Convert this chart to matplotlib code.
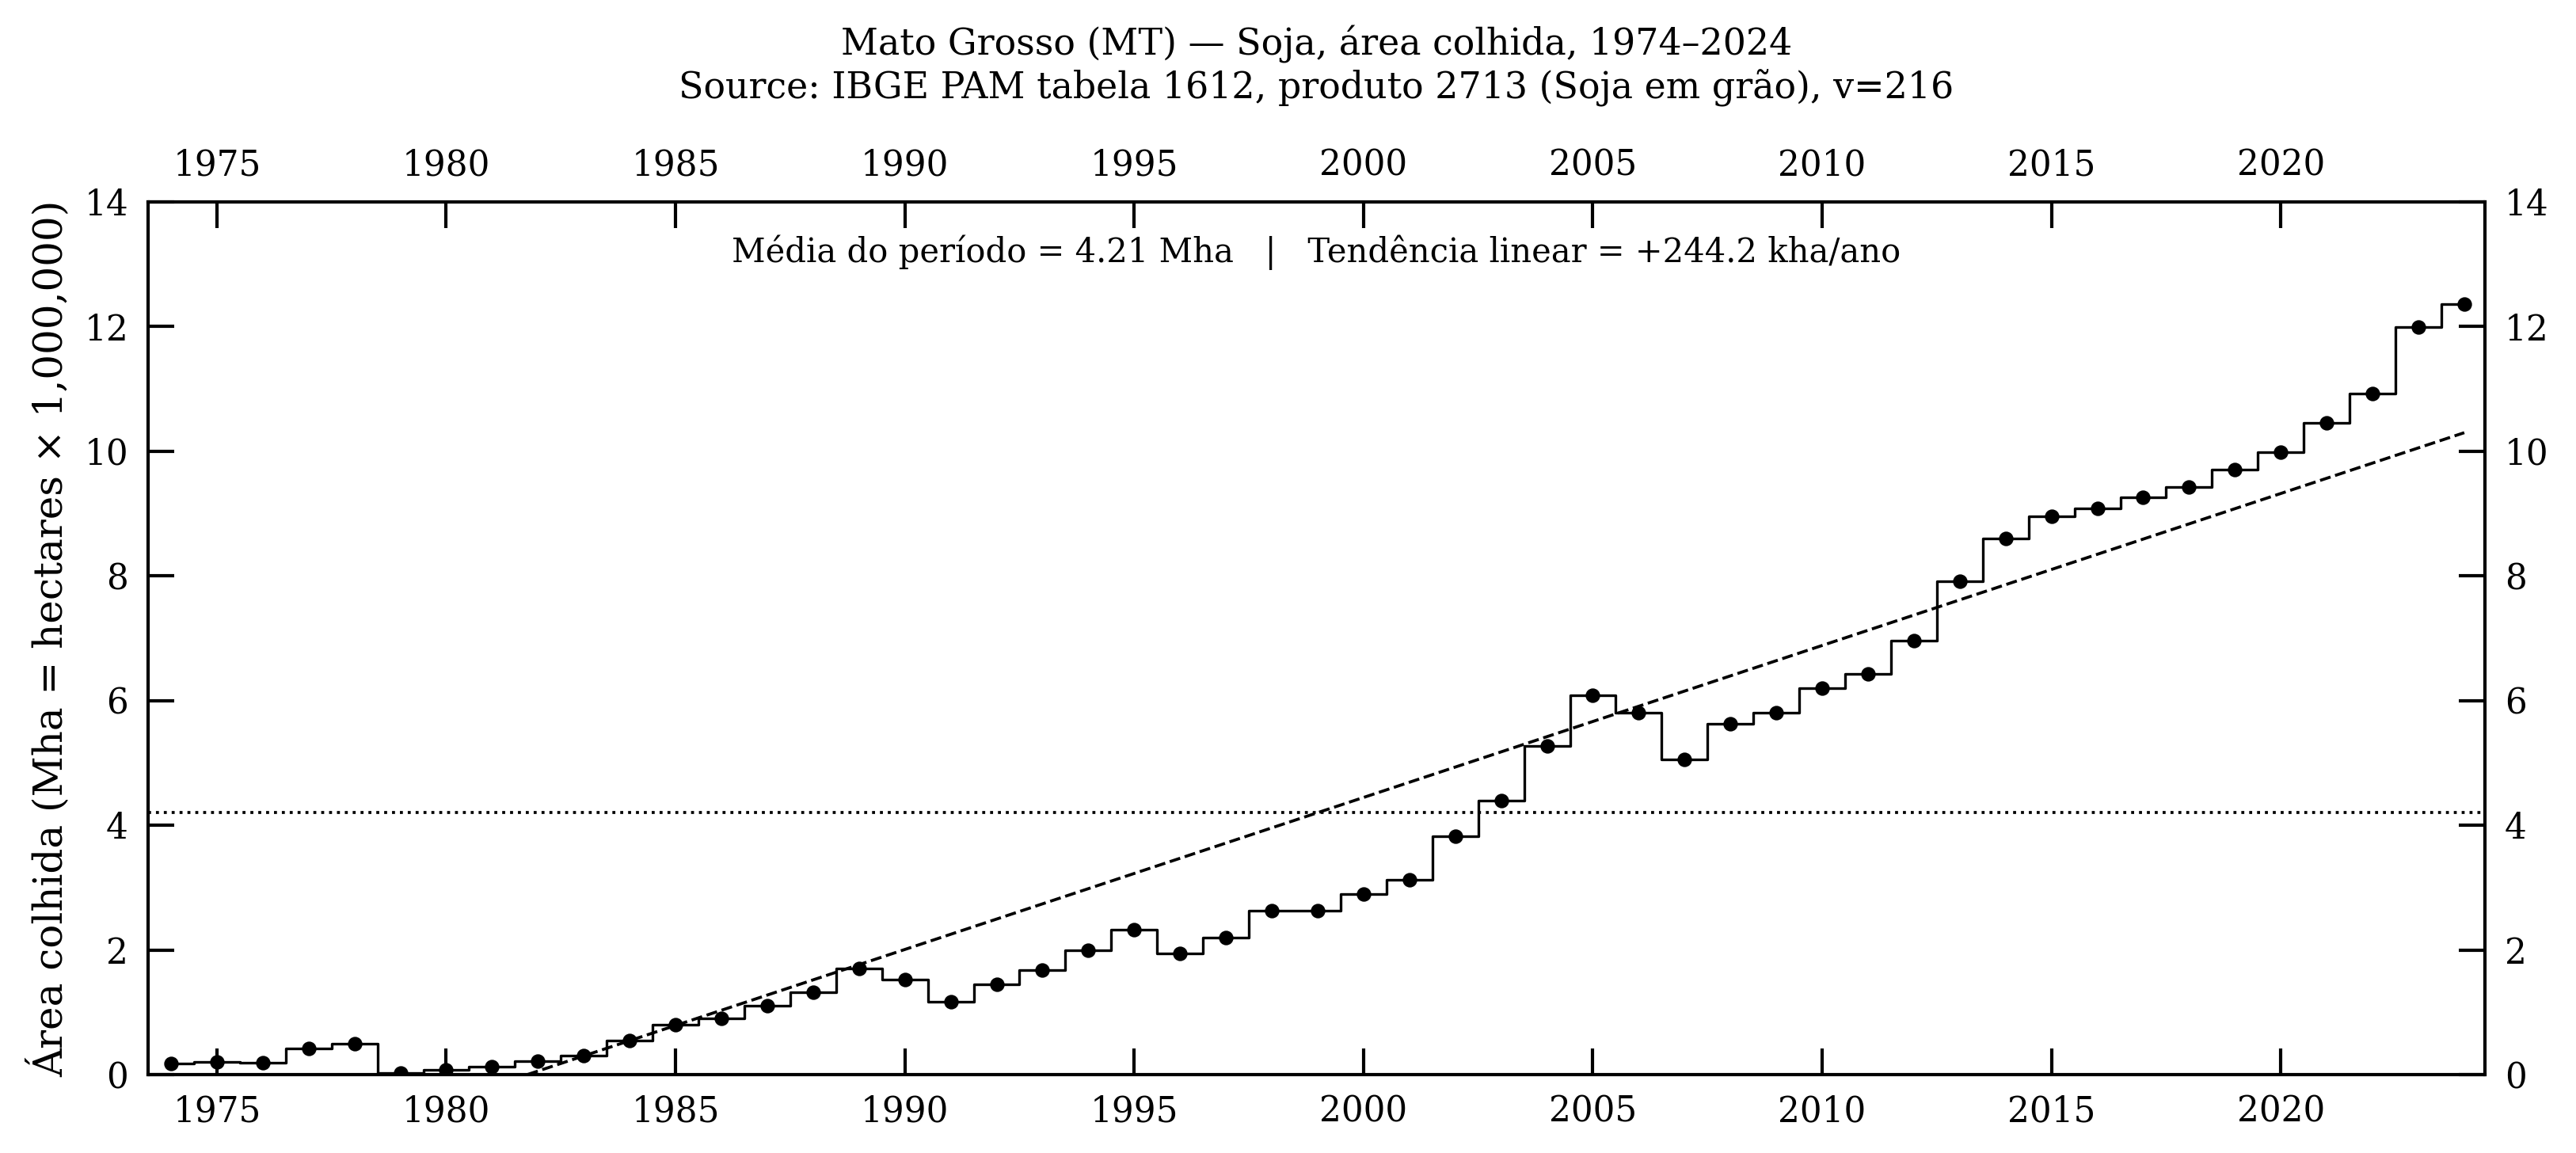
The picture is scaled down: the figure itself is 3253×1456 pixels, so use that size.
import numpy as np
import matplotlib
matplotlib.use("Agg")
import matplotlib.pyplot as plt

plt.rcParams['font.family'] = ['DejaVu Serif']

years = list(range(1974, 2025))
area_mha = [0.18, 0.20, 0.19, 0.42, 0.50, 0.03, 0.08, 0.13, 0.21, 0.31,
            0.54, 0.80, 0.90, 1.10, 1.32, 1.70, 1.52, 1.17, 1.45, 1.68,
            2.00, 2.32, 1.95, 2.20, 2.63, 2.63, 2.90, 3.12, 3.82, 4.40,
            5.27, 6.09, 5.80, 5.06, 5.63, 5.80, 6.20, 6.43, 6.96, 7.91,
            8.60, 8.96, 9.08, 9.26, 9.43, 9.71, 9.99, 10.45, 10.93, 11.99,
            12.36]
x_ticks = [1975, 1980, 1985, 1990, 1995, 2000, 2005, 2010, 2015, 2020]
y_ticks = [0, 2, 4, 6, 8, 10, 12, 14]

title = "Mato Grosso (MT) — Soja, área colhida, 1974–2024\nSource: IBGE PAM tabela 1612, produto 2713 (Soja em grão), v=216"
ylabel = "Área colhida (Mha = hectares × 1,000,000)"
stats_text = "Média do período = 4.21 Mha   |   Tendência linear = +244.2 kha/ano"

x = np.array(years, dtype=float)
y = np.array(area_mha)
slope, intercept = np.polyfit(x, y, 1)

fig = plt.figure(figsize=(3254 / 300, 1456 / 300), dpi=300)
ax = fig.add_axes([187 / 3254, 1 - 1357 / 1456, (3138 - 187) / 3254, (1357 - 255) / 1456])

ax.step(x, y, where='mid', color='black', lw=0.8)
ax.plot(x, y, 'o', color='black', ms=3.4)
ax.plot(x, slope * x + intercept, '--', color='black', lw=0.9)
ax.axhline(4.21, color='black', ls=':', lw=0.9)

ax.set_xlim(1973.5, 2024.45)
ax.set_ylim(0, 14)
ax.set_xticks(x_ticks)
ax.set_yticks(y_ticks)
ax.tick_params(direction='in', length=8, width=1.0, top=True, right=True,
               labeltop=True, labelright=True, labelsize=10.5, pad=6)
for s in ax.spines.values():
    s.set_linewidth(1.0)

ax.set_ylabel(ylabel, fontsize=12)
ax.set_title(title, fontsize=11, pad=15)
ax.text(0.5, 0.942, stats_text, transform=ax.transAxes, ha='center', va='center', fontsize=10)

fig.savefig("out.png", dpi=300)
